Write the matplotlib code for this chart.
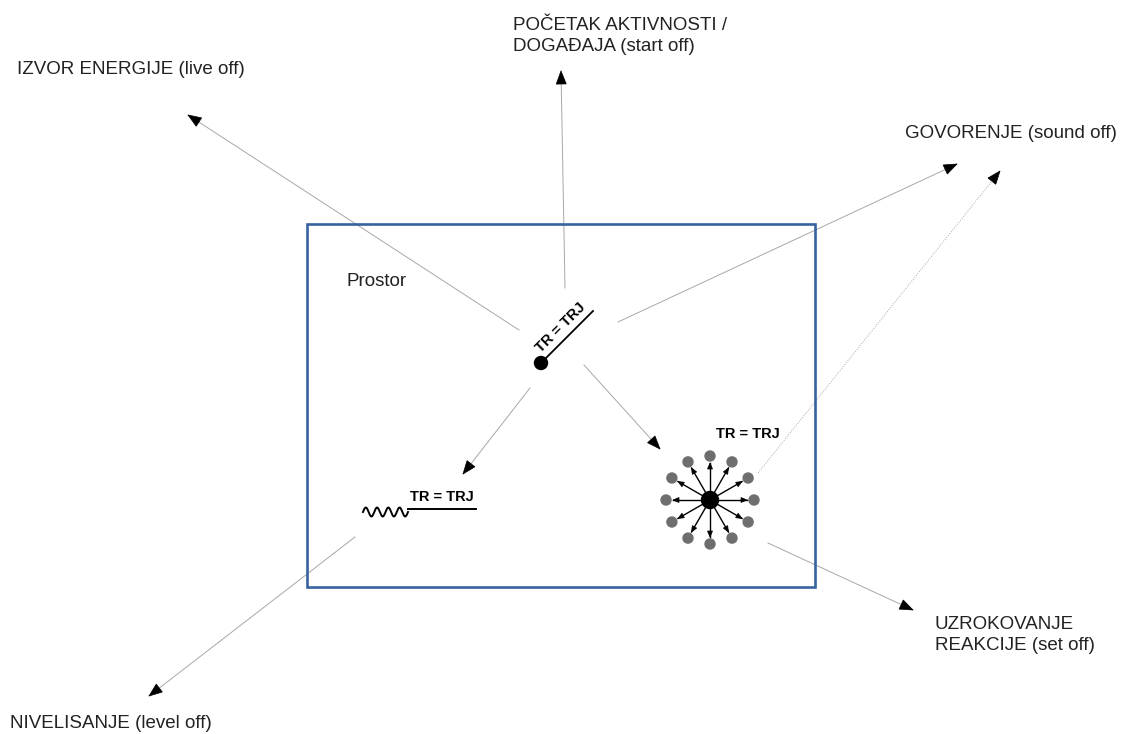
import numpy as np
import matplotlib.pyplot as plt
from matplotlib.patches import Rectangle, Circle, Polygon

plt.rcParams["font.family"] = ["Liberation Sans", "DejaVu Sans"]

W, H = 1122, 734

# outer labels (text, x, y)
labels = [
    "IZVOR ENERGIJE (live off)",
    "POČETAK AKTIVNOSTI /\nDOGAĐAJA (start off)",
    "GOVORENJE (sound off)",
    "UZROKOVANJE\nREAKCIJE (set off)",
    "NIVELISANJE (level off)",
]
label_x = [17, 513, 905, 935, 10]
label_y = [70, 36, 133, 635, 723]

# gray arrows: tail -> tip (pixel space)
arrow_tail = [(519, 330), (565, 288), (618, 322), (584, 365), (530, 388), (355, 537), (768, 543)]
arrow_tip = [(188, 115), (561, 71), (957, 164), (660, 449), (463, 474), (149, 696), (913, 610)]
dotted_tail, dotted_tip = (758, 473), (1000, 171)

box = (307, 224, 815, 587)
center_dot = (541, 363)
center_line_end = (593, 311)
burst_center = (710, 500)
burst_angles = list(range(0, 360, 30))
burst_radius = 44


def head(ax, tail, tip, length=13, half=5, color="black"):
    t = np.array(tail, float)
    p = np.array(tip, float)
    d = (p - t) / np.hypot(*(p - t))
    n = np.array([-d[1], d[0]])
    base = p - d * length
    ax.add_patch(Polygon([p, base + n * half, base - n * half], closed=True,
                         facecolor=color, edgecolor=color, lw=0.5, zorder=4))


def arrow(ax, tail, tip, ls="-", color="#a8a8a8"):
    ax.plot([tail[0], tip[0]], [tail[1], tip[1]], color=color, lw=0.7, ls=ls, zorder=2)
    head(ax, tail, tip)


fig = plt.figure(figsize=(W / 100, H / 100), dpi=100)
ax = fig.add_axes([0, 0, 1, 1])
ax.set_xlim(0, W)
ax.set_ylim(H, 0)
ax.axis("off")

# space box
x0, y0, x1, y1 = box
ax.add_patch(Rectangle((x0, y0), x1 - x0, y1 - y0, fill=False,
                       edgecolor="#3862a0", lw=1.9, zorder=3))
ax.text(347, 282, "Prostor", fontsize=13.5, color="#222222", va="center", ha="left")

for tl, tp in zip(arrow_tail, arrow_tip):
    arrow(ax, tl, tp)
arrow(ax, dotted_tail, dotted_tip, ls=(0, (1, 1.5)))

for txt, x, y in zip(labels, label_x, label_y):
    ax.text(x, y, txt, fontsize=13.5, color="#222222", ha="left", va="center",
            linespacing=1.28)

# central TR = TRJ
ax.plot([center_dot[0], center_line_end[0]], [center_dot[1], center_line_end[1]],
        color="black", lw=1.3, zorder=3)
ax.add_patch(Circle(center_dot, 6.5, color="black", zorder=4))
ax.text(561, 328, "TR = TRJ", fontsize=10.5, fontweight="bold", rotation=45,
        ha="center", va="center", rotation_mode="anchor")

# wavy line + TR = TRJ
wx = np.linspace(363, 408, 160)
wy = 512 - 4.5 * np.sin((wx - 363) / 45 * 8 * np.pi)
ax.plot(wx, wy, color="black", lw=1.4)
ax.plot([408, 476], [509, 509], color="black", lw=1.4)
ax.text(442, 497, "TR = TRJ", fontsize=10.5, fontweight="bold", ha="center", va="center")

# starburst
cx, cy = burst_center
for a in burst_angles:
    r = np.deg2rad(a)
    dx, dy = np.cos(r), -np.sin(r)
    ax.add_patch(Circle((cx + dx * burst_radius, cy + dy * burst_radius), 5,
                        color="#6e6e6e", zorder=3))
    tip = (cx + dx * 37, cy + dy * 37)
    ax.plot([cx, tip[0]], [cy, tip[1]], color="black", lw=1.0, zorder=3)
    head(ax, (cx, cy), tip, length=6, half=2.5)
ax.add_patch(Circle(burst_center, 8.5, color="black", zorder=5))
ax.text(748, 434, "TR = TRJ", fontsize=10.5, fontweight="bold", ha="center", va="center")

fig.savefig("out.png", dpi=100)
